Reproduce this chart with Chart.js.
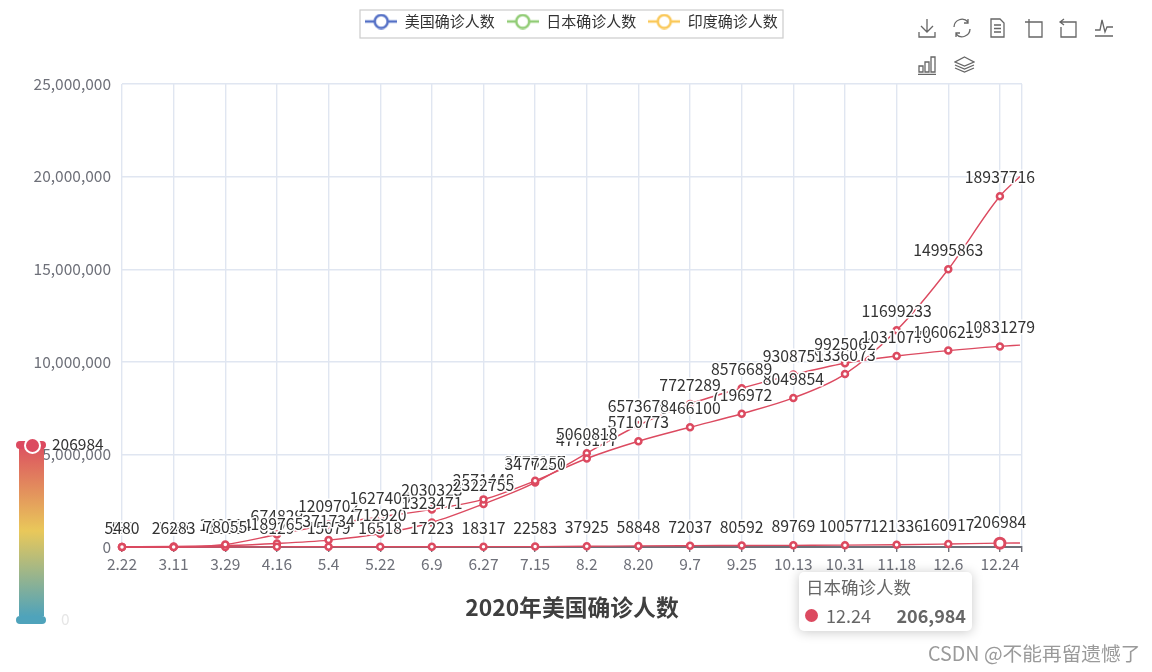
<!DOCTYPE html>
<html>
<head>
<meta charset="utf-8">
<title>2020年美国确诊人数</title>
<script src="https://cdn.jsdelivr.net/npm/chart.js@4/dist/chart.umd.min.js"></script>
<style>
    html, body { margin: 0; padding: 0; background: #fff; overflow: hidden; font-family: "Noto Sans CJK SC", sans-serif; }
    #wrap { position: relative; width: 1152px; height: 672px; }
    #chart { position: absolute; left: 0; top: 0; }
    .abs { position: absolute; white-space: nowrap; line-height: 1; }
    #tip { left: 799px; top: 572px; width: 173px; height: 59px; background: #fff; border-radius: 5px; box-shadow: 0 1px 12px rgba(0,0,0,.22); }
    #bar { left: 19px; top: 446px; width: 25px; height: 170px; background: linear-gradient(#dc5260, #e9c85a 50%, #50a3ba); }
    svg.abs { fill: none; stroke: #666; stroke-width: 1.3; }
</style>
</head>
<body>
<div id="wrap">
    <canvas id="chart" width="1152" height="672"></canvas>

    <div class="abs" id="bar"></div>
    <div class="abs" style="left:16px;top:441px;width:30px;height:8px;border-radius:4px;background:#dc4a60"></div>
    <div class="abs" style="left:24px;top:437px;width:13px;height:13px;border-radius:50%;background:#dc4a60;border:2px solid #fff"></div>
    <div class="abs" style="left:16px;top:616px;width:30px;height:8px;border-radius:4px;background:#4fa3bb"></div>
    <div class="abs" id="vmMax" style="left:52px;top:436px;font-size:15.5px;color:#333"></div>
    <div class="abs" id="vmMin" style="left:61px;top:611px;font-size:15.5px;color:#e6e6e6"></div>

    <div class="abs" id="tip">
        <div class="abs" id="tipName" style="left:7px;top:6px;font-size:17.5px;color:#666"></div>
        <div class="abs" style="left:6px;top:37px;width:13px;height:13px;border-radius:50%;background:#dc4a60"></div>
        <div class="abs" id="tipCat" style="left:27px;top:34px;font-size:18px;color:#666"></div>
        <div class="abs" id="tipVal" style="right:6px;top:34px;font-size:18px;font-weight:bold;color:#666"></div>
    </div>

    <div class="abs" style="left:928px;top:643px;font-size:19.7px;color:#9a9a9a">CSDN @不能再留遗憾了</div>

    <!-- toolbox -->
    <svg class="abs" style="left:917px;top:18px" width="20" height="20" viewBox="0 0 20 20"><path d="M10 1V14M4 8L10 14L16 8M2 14V19H18V14"/></svg>
    <svg class="abs" style="left:952px;top:18px" width="20" height="20" viewBox="0 0 20 20"><path d="M2 9A8 8 0 0 1 16 4M18 11A8 8 0 0 1 4 16M16 1V5H12M4 19V15H8"/></svg>
    <svg class="abs" style="left:988px;top:18px" width="20" height="20" viewBox="0 0 20 20"><path d="M3 1H12L16 5V19H3ZM6 7H13M6 10.500H13M6 14H13"/></svg>
    <svg class="abs" style="left:1024px;top:18px" width="20" height="20" viewBox="0 0 20 20"><path d="M1 4H18V19H5V1"/></svg>
    <svg class="abs" style="left:1058px;top:18px" width="20" height="20" viewBox="0 0 20 20"><path d="M2 4H18V19H3V9M6 1L2 4L6 7"/></svg>
    <svg class="abs" style="left:1094px;top:18px" width="20" height="20" viewBox="0 0 20 20"><path d="M1 12H6L8 2L11 14L13 9H19M1 18H19"/></svg>
    <svg class="abs" style="left:917px;top:55px" width="20" height="20" viewBox="0 0 20 20"><path d="M2 11H6V17H2ZM8 7H12V17H8ZM14 2H18V17H14ZM1 19.500H19"/></svg>
    <svg class="abs" style="left:954px;top:55px" width="21" height="20" viewBox="0 0 21 20"><path d="M10.500 2L20 7L10.500 11L1 7ZM1 10L10.500 14L20 10M1 13L10.500 17L20 13"/></svg>
</div>

<script>
    // labels on the x axis, one every 18 days, last entry is the unlabelled end of the data
    const categories = ['2.22', '3.11', '3.29', '4.16', '5.4', '5.22', '6.9', '6.27', '7.15', '8.2', '8.20', '9.7', '9.25', '10.13', '10.31', '11.18', '12.6', '12.24', ''];
    const dayOffsets = [0, 18, 36, 54, 72, 90, 108, 126, 144, 162, 180, 198, 216, 234, 252, 270, 288, 306, 313];

    const usCases = [35, 1281, 140904, 674829, 1209702, 1627409, 2030323, 2571448, 3576157, 4778177, 5710773, 6466100, 7196972, 8049854, 9336073, 11699233, 14995863, 18937716, 20000000];
    const japanCases = [132, 581, 1866, 8129, 15079, 16518, 17223, 18317, 22583, 37925, 58848, 72037, 80592, 89769, 100577, 121336, 160917, 206984, 218000];
    const indiaCases = [5480, 26283, 78055, 189765, 371734, 712920, 1323471, 2322755, 3477250, 5060818, 6573678, 7727289, 8576689, 9308751, 9925062, 10310778, 10606219, 10831279, 10900000];

    const seriesNames = ['美国确诊人数', '日本确诊人数', '印度确诊人数'];
    const legendColors = ['#5470c6', '#91cc75', '#fac858'];
    const lineColor = '#dc4a60';
    const FONT = '"Noto Sans CJK SC", sans-serif';
    const lastIdx = categories.length - 2; // index of 12.24

    function legendIcon(color) {
        let c = document.createElement('canvas');
        c.width = 32; c.height = 16;
        let g = c.getContext('2d');
        g.strokeStyle = color;
        g.lineWidth = 2.5;
        g.beginPath(); g.moveTo(0, 8); g.lineTo(32, 8); g.stroke();
        g.fillStyle = '#fff';
        g.beginPath(); g.arc(16, 8, 6.5, 0, Math.PI * 2); g.fill(); g.stroke();
        return c;
    }

    function makeDataset(name, values, hiIdx) {
        return {
            label: name,
            data: values.map(function (v, i) { return { x: dayOffsets[i], y: v }; }),
            borderColor: lineColor,
            borderWidth: 1.4,
            cubicInterpolationMode: 'monotone',
            backgroundColor: '#fff',
            pointBackgroundColor: '#fff',
            pointBorderColor: lineColor,
            pointBorderWidth: values.map(function (v, i) { return i === hiIdx ? 3 : 2.5; }),
            pointRadius: values.map(function (v, i) { return i === values.length - 1 ? 0 : (i === hiIdx ? 5 : 3); }),
            clip: false
        };
    }

    // value labels above the points, white outline like the original
    const valueLabels = {
        id: 'valueLabels',
        afterDatasetsDraw: function (chart) {
            let ctx = chart.ctx;
            ctx.save();
            ctx.font = '15.8px ' + FONT;
            ctx.textAlign = 'center';
            ctx.textBaseline = 'middle';
            ctx.lineJoin = 'round';
            chart.data.datasets.forEach(function (ds, d) {
                chart.getDatasetMeta(d).data.forEach(function (pt, i) {
                    if (i > lastIdx) return;
                    let text = String(ds.data[i].y);
                    let y = pt.y - (d === 1 && i === lastIdx ? 21 : 19);
                    ctx.strokeStyle = '#fff';
                    ctx.lineWidth = 3;
                    ctx.strokeText(text, pt.x, y);
                    ctx.fillStyle = '#333';
                    ctx.fillText(text, pt.x, y);
                });
            });
            ctx.restore();
        }
    };

    // legend takes no layout height, it sits in a fixed framed box above the plot
    const legendBox = {
        id: 'legendBox',
        beforeInit: function (chart) {
            let fit = chart.legend.fit;
            chart.legend.fit = function () {
                fit.call(this);
                this.height = 0;
            };
        },
        afterLayout: function (chart) {
            let l = chart.legend;
            // wider than the frame so the third item stays on the row
            l.left = 340; l.right = 803; l.top = 2; l.bottom = 38;
        },
        beforeDraw: function (chart) {
            let ctx = chart.ctx;
            ctx.save();
            ctx.strokeStyle = '#ccc';
            ctx.lineWidth = 1.2;
            ctx.strokeRect(360, 10, 423, 28);
            ctx.restore();
        }
    };

    new Chart(document.getElementById('chart'), {
        type: 'line',
        data: {
            datasets: [
                makeDataset(seriesNames[0], usCases, -1),
                makeDataset(seriesNames[1], japanCases, lastIdx),
                makeDataset(seriesNames[2], indiaCases, -1)
            ]
        },
        plugins: [valueLabels, legendBox],
        options: {
            responsive: false,
            animation: false,
            events: [],
            layout: { padding: { left: 0, right: 130, top: 84, bottom: 0 } },
            plugins: {
                tooltip: { enabled: false },
                legend: {
                    display: true,
                    position: 'top',
                    labels: {
                        font: { family: FONT, size: 15 },
                        color: '#333',
                        usePointStyle: true,
                        pointStyleWidth: 32,
                        padding: 12,
                        generateLabels: function () {
                            return seriesNames.map(function (n, i) {
                                return { text: n, pointStyle: legendIcon(legendColors[i]), datasetIndex: i, lineWidth: 0, fontColor: '#333' };
                            });
                        }
                    }
                }
            },
            scales: {
                x: {
                    type: 'linear',
                    min: 0,
                    max: 313.7,
                    afterFit: function (s) { s.height = 125; },
                    afterBuildTicks: function (s) {
                        s.ticks = dayOffsets.slice(0, -1).map(function (d) { return { value: d }; });
                        s.ticks.push({ value: 313.7 });
                    },
                    ticks: {
                        autoSkip: false,
                        maxRotation: 0,
                        padding: 3,
                        color: '#6E7079',
                        font: { family: FONT, size: 15.5 },
                        callback: function (v) {
                            let i = dayOffsets.indexOf(v);
                            return i < 0 ? '' : categories[i];
                        }
                    },
                    grid: { color: '#E0E6F1', lineWidth: 1.4, tickColor: '#6E7079', tickLength: 5 },
                    border: { color: '#6E7079', width: 2 },
                    title: {
                        display: true,
                        text: '2020年美国确诊人数',
                        color: '#3f3f3f',
                        font: { family: FONT, size: 22.8, weight: 'bold' },
                        padding: { top: 0, bottom: 51 }
                    }
                },
                y: {
                    min: 0,
                    max: 25000000,
                    afterFit: function (s) { s.width = 122; },
                    ticks: {
                        stepSize: 5000000,
                        padding: 11,
                        color: '#6E7079',
                        font: { family: FONT, size: 15.5 },
                        callback: function (v) { return Number(v).toLocaleString('en-US'); }
                    },
                    grid: { color: '#E0E6F1', lineWidth: 1.4, drawTicks: false },
                    border: { display: false }
                }
            }
        }
    });

    document.getElementById('vmMax').textContent = String(japanCases[lastIdx]);
    document.getElementById('vmMin').textContent = '0';
    document.getElementById('tipName').textContent = seriesNames[1];
    document.getElementById('tipCat').textContent = categories[lastIdx];
    document.getElementById('tipVal').textContent = japanCases[lastIdx].toLocaleString('en-US');
</script>
</body>
</html>
